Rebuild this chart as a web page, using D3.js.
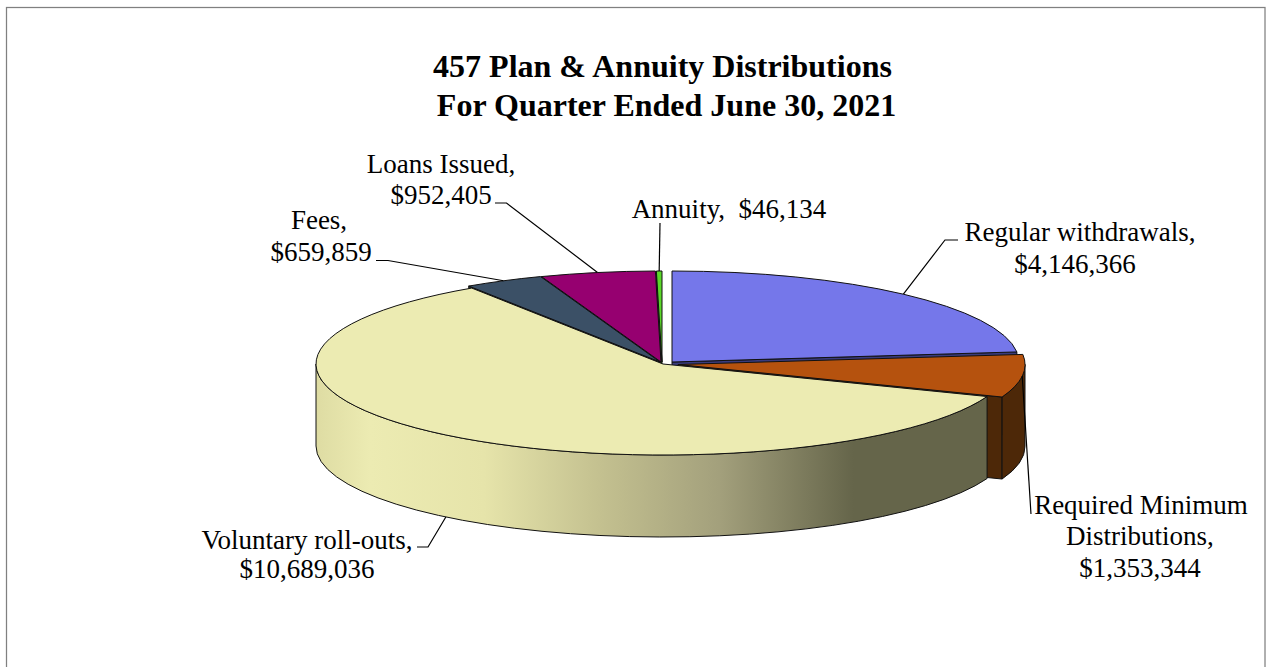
<!DOCTYPE html>
<html>
<head>
<meta charset="utf-8">
<script src="https://cdn.jsdelivr.net/npm/d3@7"></script>
<style>
  html, body { margin: 0; padding: 0; background: #fff; }
  text { font-family: "Liberation Serif", serif; fill: #000; white-space: pre; }
</style>
</head>
<body>
<div id="canvas"></div>
<script>
var w = 1266;
var h = 667;

var categories = ["Regular withdrawals", "Required Minimum Distributions", "Voluntary roll-outs", "Fees", "Loans Issued", "Annuity"];
var values = [4146366, 1353344, 10689036, 659859, 952405, 46134];

var topColors = ["#7577ea", "#b5520e", "#ecebb2", "#3b5066", "#960070", "#5ad82a"];
var wallColors = ["#393b7c", "#4d2808", "#e6e4aa", "#1e2c3a", "#4a0038", "#2a7a14"];

// slice centres on the page (some are pulled out of the pie)
var centers = [[672, 362], [678, 364.5], [663, 364], [660, 362], [661, 362], [662, 362]];
// order slices get painted in, back to front
var paintOrder = [5, 4, 3, 0, 1, 2];

var rx = 347;
var ry = 91;
var depth = 82;

var titleLines = ["457 Plan & Annuity Distributions", " For Quarter Ended June 30, 2021"];
var titleY = [77, 116];

var money = d3.format("$,");

// label text lines, anchor x, baselines, and the leader elbow points
var labels = [
  { lines: [categories[0] + ",", money(values[0])], x: [1080, 1075], y: [241, 273], elbow: [[945, 240], [958, 240]] },
  { lines: ["Required Minimum", "Distributions,", money(values[1])], x: [1141, 1140, 1140], y: [514, 545, 577], elbow: [[1031, 514]] },
  { lines: [categories[2] + ",", money(values[2])], x: [307, 307], y: [549, 578], elbow: [[428, 547], [417, 547]] },
  { lines: [categories[3] + ",", money(values[3])], x: [319, 321], y: [229, 261], elbow: [[388, 260.5], [376, 260.5]] },
  { lines: [categories[4] + ",", money(values[4])], x: [441, 441], y: [173, 204], elbow: [[506.5, 203], [495, 203]] },
  { lines: [categories[5] + ",  " + money(values[5])], x: [729], y: [218], elbow: [[660, 223]] }
];

var canvas = d3.select("#canvas")
  .append("svg")
  .attr("width", w)
  .attr("height", h)
  .style("display", "block");

canvas.append("rect")
  .attr("x", 6.5)
  .attr("y", 7.5)
  .attr("width", 1258.5)
  .attr("height", 700)
  .attr("fill", "white")
  .attr("stroke", "#808080")
  .attr("stroke-width", 1.25);

// shading along the long side wall
var grad = canvas.append("defs").append("linearGradient")
  .attr("id", "wallShade")
  .attr("gradientUnits", "userSpaceOnUse")
  .attr("x1", 316).attr("x2", 988)
  .attr("y1", 0).attr("y2", 0);

[[0, "#dedca3"], [0.08, "#ecebb2"], [0.25, "#e6e4aa"], [0.42, "#c4c190"], [0.6, "#a3a07c"], [0.8, "#65654a"], [1, "#65654a"]]
  .forEach(function(s) {
    grad.append("stop").attr("offset", s[0]).attr("stop-color", s[1]);
  });

var pie = d3.pie().sort(null)(values);

function rim(c, a, drop) {
  return [c[0] + rx * Math.sin(a), c[1] - ry * Math.cos(a) + (drop || 0)];
}

function topPath(c, a0, a1) {
  var p0 = rim(c, a0), p1 = rim(c, a1);
  var large = a1 - a0 > Math.PI ? 1 : 0;
  return "M" + c + "L" + p0 + "A" + rx + "," + ry + " 0 " + large + " 1 " + p1 + "Z";
}

// outer face, only the part that turns toward the viewer
function outerPath(c, a0, a1) {
  var s = Math.max(a0, Math.PI / 2), e = Math.min(a1, 3 * Math.PI / 2);
  if (e <= s) return null;
  var p0 = rim(c, s), p1 = rim(c, e), q0 = rim(c, s, depth), q1 = rim(c, e, depth);
  return "M" + p0 + "A" + rx + "," + ry + " 0 0 1 " + p1 + "L" + q1 + "A" + rx + "," + ry + " 0 0 0 " + q0 + "Z";
}

function cutPath(c, a) {
  var p = rim(c, a);
  return "M" + c + "L" + p + "L" + [p[0], p[1] + depth] + "L" + [c[0], c[1] + depth] + "Z";
}

var slices = canvas.append("g")
  .attr("stroke", "#111")
  .attr("stroke-width", 1)
  .attr("stroke-linejoin", "round");

paintOrder.forEach(function(i) {
  var d = pie[i], c = centers[i];
  if (Math.sin(d.endAngle) > 0) slices.append("path").attr("d", cutPath(c, d.endAngle)).attr("fill", wallColors[i]);
  if (Math.sin(d.startAngle) < -1e-6) slices.append("path").attr("d", cutPath(c, d.startAngle)).attr("fill", wallColors[i]);
  var outer = outerPath(c, d.startAngle, d.endAngle);
  if (outer) {
    slices.append("path")
      .attr("d", outer)
      .attr("fill", i === 2 ? "url(#wallShade)" : wallColors[i]);
  }
  slices.append("path").attr("d", topPath(c, d.startAngle, d.endAngle)).attr("fill", topColors[i]);
});

// leader lines start at the middle of each slice's rim
var line = d3.line();
labels.forEach(function(l, i) {
  var d = pie[i];
  var mid = (d.startAngle + d.endAngle) / 2;
  var drop = i === 2 ? depth : 0;
  canvas.append("path")
    .attr("d", line([rim(centers[i], mid, drop)].concat(l.elbow)))
    .attr("fill", "none")
    .attr("stroke", "black")
    .attr("stroke-width", 1.2);

  l.lines.forEach(function(t, j) {
    canvas.append("text")
      .attr("x", l.x[j])
      .attr("y", l.y[j])
      .attr("text-anchor", "middle")
      .style("font-size", "27px")
      .text(t);
  });
});

titleLines.forEach(function(t, i) {
  canvas.append("text")
    .attr("x", 662.5)
    .attr("y", titleY[i])
    .attr("text-anchor", "middle")
    .style("font-size", "32px")
    .style("font-weight", "bold")
    .text(t);
});
</script>
</body>
</html>
